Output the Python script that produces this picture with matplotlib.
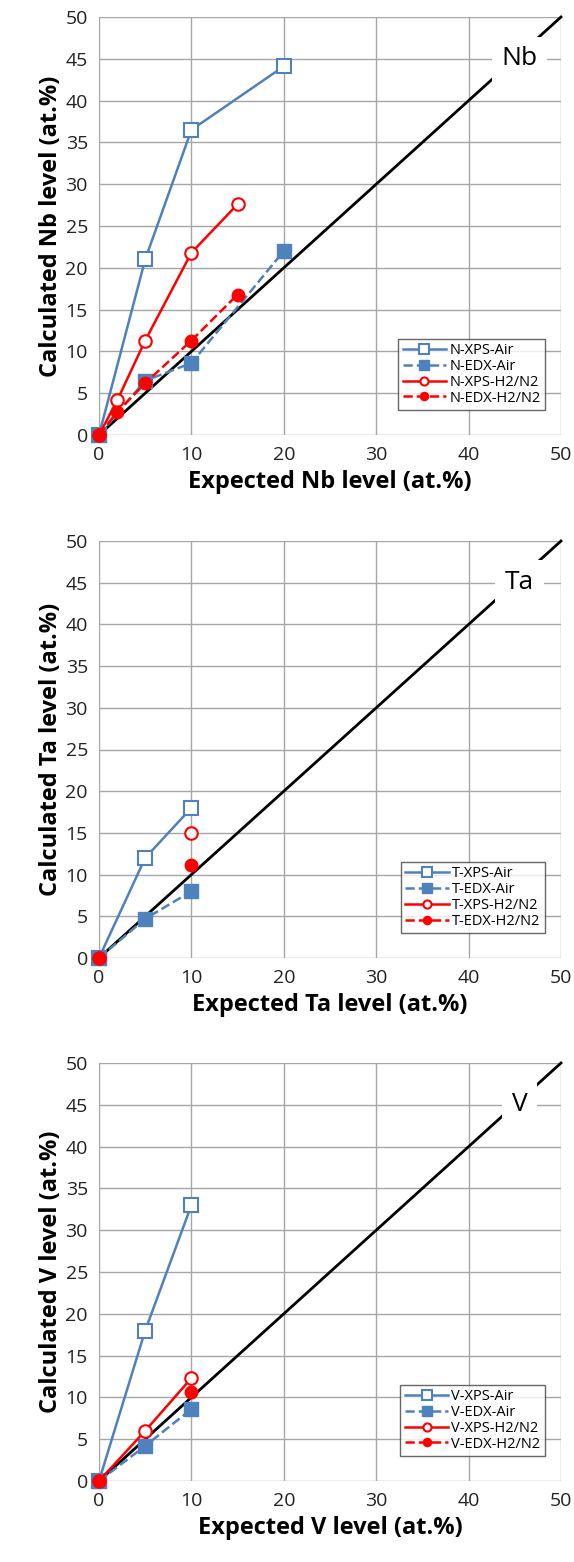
import matplotlib.pyplot as plt
import numpy as np

plt.rcParams['font.family'] = ['Open Sans', 'DejaVu Sans']

# expected levels (at.%)
x_nb_air = [0, 5, 10, 20]
x_nb_h2 = [0, 2, 5, 10, 15]
x_ta = [0, 5, 10]
x_v = [0, 5, 10]

# Nb
nb_xps_air = [0, 21, 36.5, 44.1]
nb_edx_air = [0, 6.5, 8.6, 22]
nb_xps_h2 = [0, 4.2, 11.3, 21.8, 27.6]
nb_edx_h2 = [0, 2.8, 6.2, 11.3, 16.8]

# Ta (no 5 at.% point for H2/N2)
ta_xps_air = [0, 12, 18]
ta_edx_air = [0, 4.7, 8]
ta_xps_h2 = [0, np.nan, 15]
ta_edx_h2 = [0, np.nan, 11.2]

# V
v_xps_air = [0, 18, 33]
v_edx_air = [0, 4.2, 8.6]
v_xps_h2 = [0, 6, 12.3]
v_edx_h2 = [0, np.nan, 10.7]

blue = '#4F81BD'
red = '#FF0000'

panels = [
    ('Nb', 'N', x_nb_air, x_nb_h2, nb_xps_air, nb_edx_air, nb_xps_h2, nb_edx_h2),
    ('Ta', 'T', x_ta, x_ta, ta_xps_air, ta_edx_air, ta_xps_h2, ta_edx_h2),
    ('V', 'V', x_v, x_v, v_xps_air, v_edx_air, v_xps_h2, v_edx_h2),
]

W, H = 574, 1562
fig = plt.figure(figsize=(W / 100, H / 100), dpi=100)
# axes boxes in pixels: (left, top, right, bottom)
boxes = [(99, 17, 561, 435), (99, 541, 561, 958), (99, 1063, 561, 1481)]

for (el, pre, xa, xh, xps_air, edx_air, xps_h2, edx_h2), (l, t, r, b) in zip(panels, boxes):
    ax = fig.add_axes([l / W, 1 - b / H, (r - l) / W, (b - t) / H])
    ax.plot([0, 50], [0, 50], color='black', lw=2, zorder=2)
    ax.plot(xa, xps_air, '-s', color=blue, lw=1.8, ms=10, mfc='white', mec=blue,
            mew=1.5, label=pre + '-XPS-Air', zorder=3)
    ax.plot(xa, edx_air, '--s', color=blue, lw=1.8, ms=10, mfc=blue, mec=blue,
            label=pre + '-EDX-Air', zorder=3)
    ax.plot(xh, xps_h2, '-o', color=red, lw=1.8, ms=9, mfc='white', mec=red,
            mew=1.5, label=pre + '-XPS-H2/N2', zorder=4)
    ax.plot(xh, edx_h2, '--o', color=red, lw=1.8, ms=9, mfc=red, mec=red,
            label=pre + '-EDX-H2/N2', zorder=4)
    ax.text(45.5, 45, el, fontsize=19, ha='center', va='center',
            bbox=dict(facecolor='white', edgecolor='none', pad=7), zorder=5)
    ax.set_xlim(0, 50)
    ax.set_ylim(0, 50)
    ax.set_xticks(range(0, 51, 10))
    ax.set_yticks(range(0, 51, 5))
    ax.grid(True, color='#a6a6a6', lw=1)
    ax.set_axisbelow(True)
    for s in ax.spines.values():
        s.set_visible(False)
    ax.tick_params(length=0, labelsize=14, pad=8, labelcolor='#222222')
    ax.set_xlabel('Expected ' + el + ' level (at.%)', fontsize=17, fontweight='bold', labelpad=4)
    ax.set_ylabel('Calculated ' + el + ' level (at.%)', fontsize=17, fontweight='bold', labelpad=2)
    for ln in ax.lines:
        ln.set_clip_on(False)
    leg = ax.legend(loc='lower right', bbox_to_anchor=(0.965, 0.06), fontsize=10.5,
                    frameon=True, fancybox=False, edgecolor='#404040',
                    markerscale=0.65, handlelength=3.0, borderpad=0.3,
                    labelspacing=0.05, handletextpad=0.2, borderaxespad=0)
    leg.get_frame().set_linewidth(1)

fig.savefig('out.png', dpi=100)
